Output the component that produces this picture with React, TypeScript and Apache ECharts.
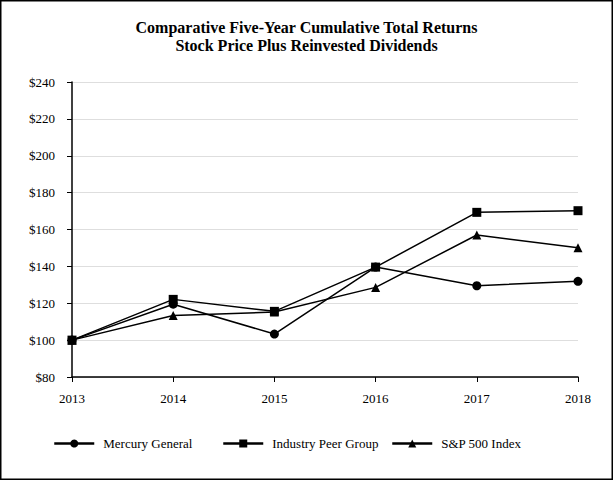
import React, { useEffect, useRef } from "react";
import * as echarts from "echarts";

const years = ["2013", "2014", "2015", "2016", "2017", "2018"];
const mercuryGeneral = [100, 119.5, 103.3, 139.6, 129.5, 131.9];
const industryPeerGroup = [100, 122.1, 115.6, 139.6, 169.3, 170.2];
const sp500Index = [100, 113.4, 115.2, 128.6, 157.0, 150.1];
const titleLines = [
  "Comparative Five-Year Cumulative Total Returns",
  "Stock Price Plus Reinvested Dividends",
];

const FONT = "Liberation Serif, Times New Roman, serif";

export default function App() {
  const ref = useRef<HTMLDivElement>(null);
  useEffect(() => {
    if (!ref.current) return;
    const chart = echarts.init(ref.current, undefined, { renderer: "svg" });
    const lineStyle = { color: "#000", width: 1.5 };
    const legendBase = {
      top: 437,
      padding: 0,
      itemWidth: 40,
      itemHeight: 10,
      lineStyle: { width: 2.5 },
      textStyle: { fontFamily: FONT, fontSize: 13, color: "#000", padding: [0, 0, 0, 4] },
    };
    const titleStyle = {
      fontFamily: FONT,
      fontSize: 16,
      fontWeight: "bold",
      color: "#000",
    };
    chart.setOption({
      animation: false,
      backgroundColor: "#fff",
      title: [
        { text: titleLines[0], left: "center", top: 19, padding: 0, textStyle: titleStyle },
        { text: titleLines[1], left: "center", top: 37, padding: 0, textStyle: titleStyle },
      ],
      legend: [
        { ...legendBase, left: 53, data: ["Mercury General"] },
        { ...legendBase, left: 222, data: ["Industry Peer Group"] },
        { ...legendBase, left: 391, data: ["S&P 500 Index"] },
      ],
      grid: { left: 72, right: 35, top: 82, bottom: 103, containLabel: false },
      xAxis: {
        type: "category",
        data: years,
        boundaryGap: false,
        axisLine: { lineStyle: { color: "#000", width: 1.5 } },
        axisTick: { alignWithLabel: true, length: 5, lineStyle: { color: "#000" } },
        axisLabel: { fontFamily: FONT, fontSize: 13, color: "#000", margin: 15 },
        splitLine: { show: false },
      },
      yAxis: {
        type: "value",
        min: 80,
        max: 240,
        interval: 20,
        axisLine: { show: true, lineStyle: { color: "#000", width: 1.5 } },
        axisTick: { show: true, length: 5, lineStyle: { color: "#000" } },
        axisLabel: {
          fontFamily: FONT,
          fontSize: 13,
          color: "#000",
          margin: 17,
          formatter: (v: number) => "$" + v,
        },
        splitLine: { show: true, lineStyle: { color: "#dedede", width: 1 } },
      },
      graphic: [
        {
          type: "rect",
          shape: { x: 0.75, y: 0.75, width: 611.5, height: 478.5 },
          style: { fill: "none", stroke: "#000", lineWidth: 1.5 },
          silent: true,
        },
      ],
      series: [
        {
          name: "Mercury General",
          type: "line",
          data: mercuryGeneral,
          symbol: "circle",
          symbolSize: 9,
          showAllSymbol: true,
          lineStyle,
          itemStyle: { color: "#000" },
          z: 2,
        },
        {
          name: "Industry Peer Group",
          type: "line",
          data: industryPeerGroup,
          symbol: "rect",
          symbolSize: 9,
          showAllSymbol: true,
          lineStyle,
          itemStyle: { color: "#000" },
          z: 4,
        },
        {
          name: "S&P 500 Index",
          type: "line",
          data: sp500Index,
          symbol: "triangle",
          symbolSize: 9,
          showAllSymbol: true,
          lineStyle,
          itemStyle: { color: "#000" },
          z: 3,
        },
      ],
    });
    return () => chart.dispose();
  }, []);
  return (
    <div
      ref={ref}
      style={{ position: "absolute", left: 0, top: 0, width: 613, height: 480 }}
    />
  );
}
